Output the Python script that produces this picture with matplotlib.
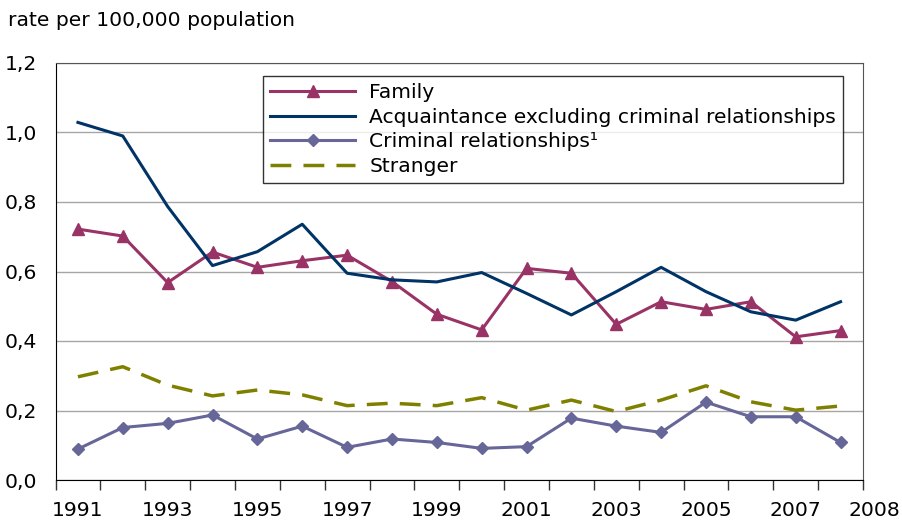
import matplotlib
matplotlib.use('Agg')
import matplotlib.pyplot as plt
from matplotlib.ticker import FuncFormatter, FixedLocator

years = list(range(1991, 2009))
family = [0.722, 0.702, 0.568, 0.656, 0.612, 0.631, 0.647, 0.571, 0.477, 0.432,
          0.609, 0.595, 0.448, 0.513, 0.491, 0.513, 0.412, 0.430]
acquaintance = [1.029, 0.990, 0.787, 0.617, 0.657, 0.736, 0.595, 0.576, 0.570, 0.597,
                0.537, 0.475, 0.542, 0.612, 0.542, 0.484, 0.460, 0.513]
criminal = [0.089, 0.151, 0.163, 0.187, 0.118, 0.155, 0.094, 0.118, 0.108, 0.091,
            0.096, 0.178, 0.155, 0.137, 0.224, 0.182, 0.182, 0.108]
stranger = [0.297, 0.326, 0.273, 0.242, 0.259, 0.245, 0.214, 0.221, 0.214, 0.237,
            0.201, 0.230, 0.197, 0.230, 0.271, 0.225, 0.201, 0.213]
labels = ['Family', 'Acquaintance excluding criminal relationships',
          'Criminal relationships¹', 'Stranger']
xlabels = ['1991', '1993', '1995', '1997', '1999', '2001', '2003', '2005', '2007']

FS = 14.6
fig = plt.figure(figsize=(9.02, 5.23), dpi=100, facecolor='white')
ax = fig.add_axes([55.5/902, 1-480/523, (863-55.5)/902, (480-63)/523])

ax.plot(years, family, color='#993366', lw=2.2, marker='^', ms=8, label=labels[0])
ax.plot(years, acquaintance, color='#003366', lw=2.2, label=labels[1])
ax.plot(years, criminal, color='#666699', lw=2.2, marker='D', ms=6, label=labels[2])
ax.plot(years, stranger, color='#808000', lw=2.5, dashes=(6, 3.5), label=labels[3])

ax.set_xlim(1990.5, 2008.5)
ax.set_ylim(0, 1.2)
ax.set_yticks([0, 0.2, 0.4, 0.6, 0.8, 1.0, 1.2])
ax.yaxis.set_major_formatter(FuncFormatter(lambda v, p: f"{v:.1f}".replace('.', ',')))
ax.grid(True, axis='y', color='#a6a6a6', lw=1)
ax.set_axisbelow(True)

# category boundaries as tick marks, labels every other year
ax.xaxis.set_major_locator(FixedLocator([int(s) for s in xlabels]))
ax.set_xticklabels(xlabels)
ax.xaxis.set_minor_locator(FixedLocator([1990.5 + k for k in range(19)]))
ax.tick_params(axis='x', which='major', length=0, pad=15, labelsize=FS)
ax.tick_params(axis='x', which='minor', length=7, width=1, color='#333333')
ax.tick_params(axis='y', length=0, pad=13, labelsize=FS)
ax.text(2008.76, -0.089, '2008', ha='center', va='center', fontsize=FS, clip_on=False)

for s in ['left', 'bottom']:
    ax.spines[s].set_color('black')
for s in ['top', 'right']:
    ax.spines[s].set_color('#555555')

leg = ax.legend(loc='upper left', bbox_to_anchor=(263/902, 1-76/523),
                bbox_transform=fig.transFigure, fontsize=FS, frameon=True,
                fancybox=False, borderaxespad=0, handlelength=4.2,
                handletextpad=0.7, labelspacing=0.28, borderpad=0.35)
leg.get_frame().set_edgecolor('black')
leg.get_frame().set_linewidth(1)

fig.text(8/902, 1-20/523, 'rate per 100,000 population', fontsize=FS, va='center', ha='left')

fig.savefig('out.png', dpi=100, facecolor='white')
